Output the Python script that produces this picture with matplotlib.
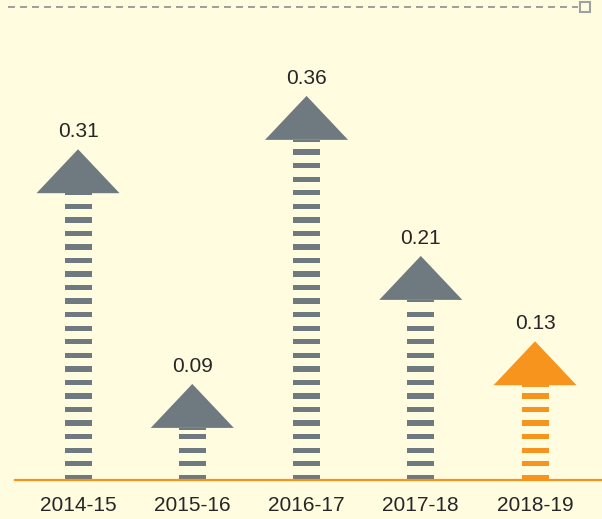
import matplotlib.pyplot as plt
from matplotlib.patches import Polygon, Rectangle

years = ['2014-15', '2015-16', '2016-17', '2017-18', '2018-19']
values = [0.31, 0.09, 0.36, 0.21, 0.13]
highlight = [False, False, False, False, True]

bg = '#fffce0'
grey = '#6e7a80'
orange = '#f7941d'

plt.rcParams['font.family'] = ['Liberation Sans', 'DejaVu Sans']

fig = plt.figure(figsize=(6.02, 5.19), dpi=100, facecolor=bg)
ax = fig.add_axes([0, 0, 1, 1])
ax.set_facecolor(bg)
ax.set_xlim(-0.683, 4.586)
ax.set_ylim(-0.0366, 0.4499)
ax.axis('off')

head_w = 0.727
head_h = 0.0412
shaft_w = 0.236
pitch = 0.0127
stripe = 0.005

for i, (v, hl) in enumerate(zip(values, highlight)):
    c = orange if hl else grey
    base = v - head_h
    ax.add_patch(Polygon([(i - head_w / 2, base), (i + head_w / 2, base), (i, v)],
                         closed=True, fc=c, ec='none', zorder=3))
    ax.add_patch(Rectangle((i - shaft_w / 2, base - 0.0018), shaft_w, 0.0018,
                           fc=c, ec='none', zorder=3))
    k = 0
    while True:
        y0 = k * pitch
        if y0 >= base - 0.006:
            break
        y1 = min(y0 + stripe, base)
        ax.add_patch(Rectangle((i - shaft_w / 2, y0), shaft_w, y1 - y0,
                               fc=c, ec='none', zorder=2))
        k += 1
    ax.text(i, v + 0.0075, f'{v:.2f}', ha='center', va='bottom',
            fontsize=15, color='#262626')
    ax.text(i, -0.0244, years[i], ha='center', va='center',
            fontsize=15, color='#262626')

ax.axhline(0, xmin=0.025, xmax=1, color=orange, lw=1.6, zorder=4)

ax.plot([8 / 602, 578 / 602], [0.9865, 0.9865], transform=ax.transAxes,
        color='#a0a0a0', lw=1.44, dashes=(3.5, 2.5), clip_on=False)
ax.plot([585 / 602], [0.9865], transform=ax.transAxes, marker='s', ms=6.5,
        mfc=bg, mec='#a0a0a0', mew=1.5, clip_on=False)

fig.savefig('out.png', dpi=100, facecolor=bg)
